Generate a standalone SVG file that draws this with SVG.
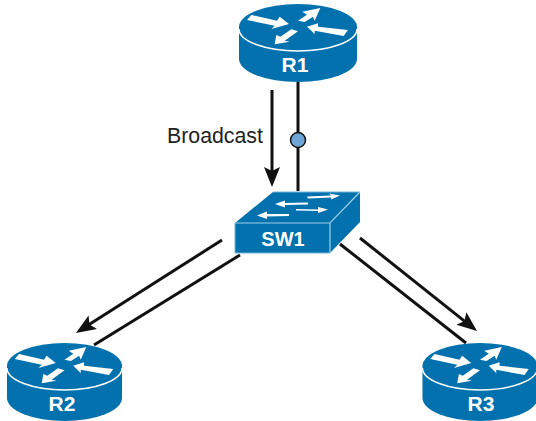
<svg xmlns="http://www.w3.org/2000/svg" width="536" height="421" viewBox="0 0 536 421">
<style>
.b{fill:#0271ae}
.w{fill:#fff}
.e{fill:none;stroke:#fff;stroke-width:1.5}
.l{font-family:"Liberation Sans",Arial,sans-serif;font-weight:bold;font-size:21px;fill:#fff;text-anchor:middle}
.c{stroke:#111;stroke-width:3;fill:none}
</style>
<defs>
<marker id="a" markerUnits="userSpaceOnUse" markerWidth="22" markerHeight="18" refX="10" refY="8" orient="auto"><path d="M0 0L20 8L0 16L4 8Z" fill="#111"/></marker>
<g id="rt">
<path class="b" d="M-59 0A59 23 0 0 1 59 0V32A59 23 0 0 1 -59 32Z"/>
<path class="e" d="M-59 2A59 22 0 0 0 59 2"/>
<g class="w" transform="scale(.3333)">
<path d="M-140-36L-153-21L-70-4L-80 6L-27-9L-55-31L-63-19Z"/>
<path d="M67-57L13-46L27-37L0-19L20-15L45-31L50-19Z"/>
<path d="M27-1L60-11L60-1L150 9L137 27L50 11L50 21Z"/>
<path d="M-70 52L-65 24L-53 29L-20 7L0 13L-40 41L-25 44Z"/>
</g>
</g>
</defs>
<g id="connectors">
<path class="c" d="M272 90V177" marker-end="url(#a)"/>
<path class="c" d="M298 82V191"/>
<path class="c" d="M222 240L84.400 327.600" marker-end="url(#a)"/>
<path class="c" d="M240 255L94 345"/>
<path class="c" d="M360 238L469.200 324.800" marker-end="url(#a)"/>
<path class="c" d="M340 244L466 343"/>
<circle cx="298" cy="140" r="7.500" fill="#6fa6d6" stroke="#111" stroke-width="1.500"/>
</g>
<text x="167" y="143" font-family="'Liberation Sans',Arial,sans-serif" font-size="21.300" fill="#222">Broadcast</text>
<g id="R1"><use href="#rt" transform="translate(298 27)"/><text class="l" x="295" y="72">R1</text></g>
<g id="R2"><use href="#rt" transform="translate(64.500 366) scale(.975 1)"/><text class="l" x="62" y="411">R2</text></g>
<g id="R3"><use href="#rt" transform="translate(480 366) scale(.975 1)"/><text class="l" x="481" y="411">R3</text></g>
<g id="SW1">
<path class="b" d="M235 223L273 192H360V222L330 253H235Z"/>
<path d="M235 223H330L360 192M330 223V253" fill="none" stroke="#9fd0ea" stroke-width="1.200"/>
<path d="M235 223V253H330M273 192H360" fill="none" stroke="#6fb4da" stroke-width="1"/>
<g class="w">
<path d="M307 196.500L331 195.500L329 193.500L340 195.500L331 199.500V197.500L308 198.500Z"/>
<path d="M296 209L318 209.500V207L328 209.500L318 213V211L296 210.500Z"/>
<path d="M285 203V200.500L275 204L285 207.500V205L308 204.500V202.500Z"/>
<path d="M267 214V211.500L257 215.500L267 219V216.500L289 216V214Z"/>
</g>
<text class="l" x="283" y="246" style="font-size:20px">SW1</text>
</g>
</svg>
